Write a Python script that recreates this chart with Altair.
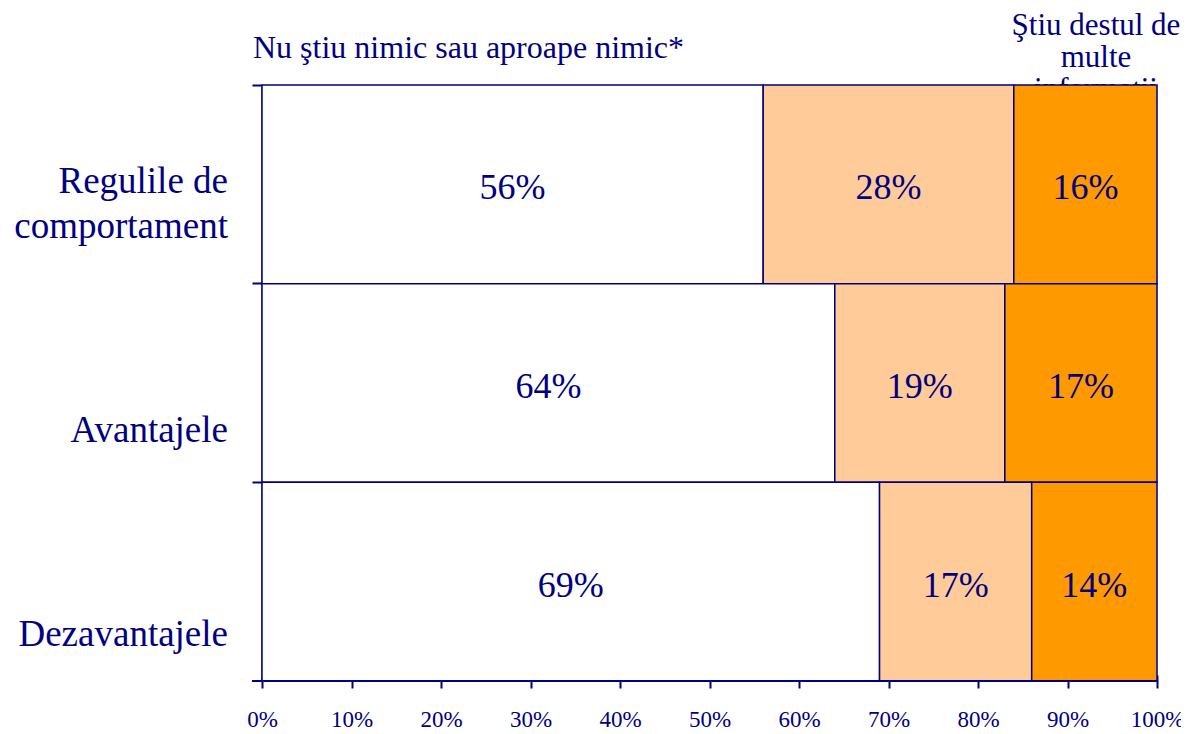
import altair as alt
import pandas as pd

categories = ["Regulile de comportament", "Avantajele", "Dezavantajele"]
cat_labels = ["Regulile de\ncomportament", "Avantajele", "Dezavantajele"]
levels = ["Nu ştiu nimic sau aproape nimic", "Ştiu câte ceva", "Ştiu destul de multe informaţii"]
nimic = [56, 64, 69]
ceva = [28, 19, 17]
multe = [16, 17, 14]
headers = ["Nu ştiu nimic sau aproape nimic*", "Ştiu destul de\nmulte\ninformaţii"]
x_ticks = [0, 10, 20, 30, 40, 50, 60, 70, 80, 90, 100]
colors = ["#FFFFFF", "#FFCC99", "#FF9900"]

NAVY = "#000080"
FONT = "Liberation Serif"
W, H = 895, 596

rows = []
for i, c in enumerate(categories):
    for j, (lvl, series) in enumerate(zip(levels, [nimic, ceva, multe])):
        rows.append({"cat": c, "level": lvl, "value": series[i], "ord": j})
df = pd.DataFrame(rows)
lab_df = pd.DataFrame({"cat": categories, "label": cat_labels})

yscale = alt.Scale(domain=categories, paddingInner=0, paddingOuter=0)
xscale = alt.Scale(domain=[0, 100], nice=False)
yaxis = alt.Axis(labels=False, title=None, bandPosition=0, tickSize=10,
                 tickColor=NAVY, tickWidth=2, domainColor=NAVY,
                 domainWidth=2, grid=False)
xaxis = alt.Axis(values=x_ticks, labelExpr="datum.value + '%'", title=None,
                 grid=False, domain=False, offset=-6, tickSize=13,
                 tickColor=NAVY, tickWidth=2, labelColor=NAVY, labelFlush=False,
                 labelFont=FONT, labelFontSize=23, labelPadding=20)

def Y():
    return alt.Y("cat:N", scale=yscale, sort=categories, axis=yaxis)

base = alt.Chart(df).transform_stack(
    stack="value", as_=["x0", "x1"], groupby=["cat"], sort=[alt.SortField("ord")]
).transform_calculate(mid="(datum.x0 + datum.x1) / 2", pct="datum.value + '%'")

bars = base.mark_bar(stroke=NAVY, strokeWidth=1.5).encode(
    y=Y(),
    x=alt.X("x0:Q", scale=xscale, axis=xaxis),
    x2="x1:Q",
    color=alt.Color("level:N", scale=alt.Scale(domain=levels, range=colors), legend=None),
)

bar_text = base.mark_text(font=FONT, fontSize=36, color=NAVY, baseline="middle", dy=4).encode(
    y=Y(),
    x=alt.X("mid:Q", scale=xscale, axis=xaxis),
    text="pct:N",
)

dys = [9, 59, 64]
ylabels = []
for c, dy in zip(categories, dys):
    ylabels.append(
        alt.Chart(lab_df).transform_filter(alt.datum.cat == c).mark_text(
            font=FONT, fontSize=37, color=NAVY, align="right", baseline="alphabetic",
            lineBreak="\n", lineHeight=45, dy=dy
        ).encode(
            y=Y(),
            x=alt.value(-34),
            text="label:N",
        )
    )

hdr_df = pd.DataFrame({"t": headers, "i": [0, 1]})
hdr_left = alt.Chart(hdr_df).transform_filter(alt.datum.i == 0).mark_text(
    font=FONT, fontSize=32, color=NAVY, align="left", baseline="alphabetic"
).encode(x=alt.value(-9), y=alt.value(-27), text="t:N")

hdr_right = alt.Chart(hdr_df).transform_filter(alt.datum.i == 1).mark_text(
    font=FONT, fontSize=31, color=NAVY, align="center", baseline="alphabetic",
    lineBreak="\n", lineHeight=32
).encode(x=alt.value(834), y=alt.value(-50), text="t:N")

baseline_rule = alt.Chart(hdr_df).transform_filter(alt.datum.i == 0).mark_rule(
    color=NAVY, strokeWidth=2
).encode(x=alt.value(-10), x2=alt.value(W), y=alt.value(H))

chart = alt.layer(
    hdr_right, bars, bar_text, *ylabels, hdr_left, baseline_rule
).properties(
    width=W, height=H,
    autosize=alt.AutoSizeParams(type="none"),
    padding={"left": 254, "top": 77, "right": 24, "bottom": 53},
).configure_view(stroke=None).configure(font=FONT)

chart.save("out.html", embed_options={"renderer": "svg", "actions": False})
